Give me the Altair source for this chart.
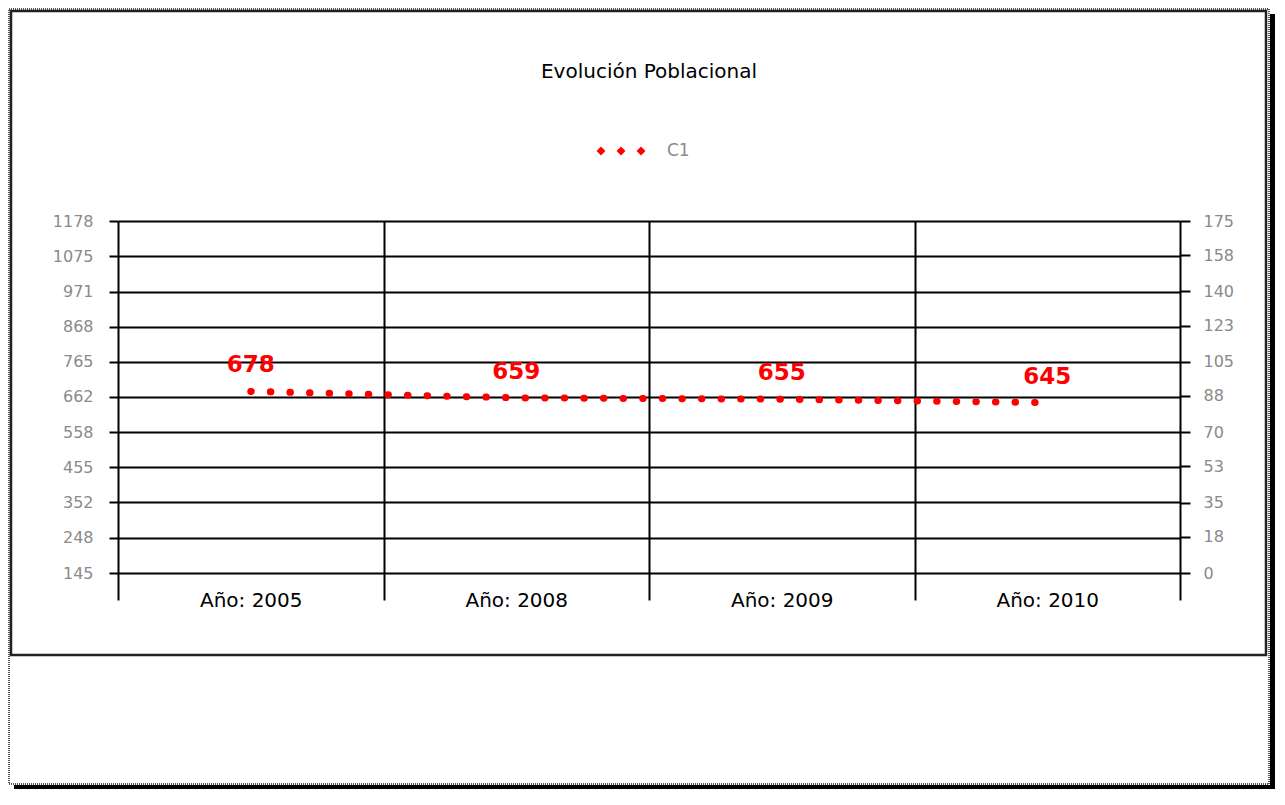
import json
import altair as alt
import pandas as pd

# ---- data ----
categories = ["Año: 2005", "Año: 2008", "Año: 2009", "Año: 2010"]
values = [678, 659, 655, 645]
series_name = "C1"
left_ticks = [145, 248, 352, 455, 558, 662, 765, 868, 971, 1075, 1178]
right_ticks = [0, 18, 35, 53, 70, 88, 105, 123, 140, 158, 175]

n = len(categories)
df = pd.DataFrame({
    "cat": categories,
    "pos": [i + 0.5 for i in range(n)],
    "val": values,
    "serie": [series_name] * n,
})
right_df = pd.DataFrame({"r": right_ticks})
one = pd.DataFrame({"k": [0]})

W, H = 1062, 352
FONT = "DejaVu Sans"
GRAY = "#8a8a8a"
RED = "#ff0000"

label_expr = (
    f"datum.value < {n} ? "
    f"{json.dumps(categories, ensure_ascii=False)}[datum.value] : ''"
)

x_enc = alt.X(
    "pos:Q",
    scale=alt.Scale(domain=[0, n], nice=False, zero=False),
    axis=alt.Axis(
        values=list(range(n + 1)), title=None, domain=False,
        grid=True, gridColor="#000", gridWidth=2, gridOpacity=1,
        ticks=True, tickSize=27, tickColor="#000", tickWidth=2,
        labelExpr=label_expr, labelOffset=W / n / 2, labelPadding=0,
        labelBaseline="middle", labelFontSize=20, labelFont=FONT,
        labelColor="#000", labelFlush=False, labelOverlap=False, labelBound=False,
    ),
)
y_enc = alt.Y(
    "val:Q",
    scale=alt.Scale(domain=[left_ticks[0], left_ticks[-1]], nice=False, zero=False),
    axis=alt.Axis(
        values=left_ticks, format="d", title=None, domain=False,
        grid=True, gridColor="#000", gridWidth=2, gridOpacity=1,
        tickSize=9, tickColor="#000", tickWidth=2,
        labelPadding=16, labelFontSize=16, labelFont=FONT, labelColor=GRAY,
        labelOverlap=False, labelFlush=False,
    ),
)

legend_path = (
    "M-0.885,0L-0.77,-0.12L-0.655,0L-0.77,0.12Z "
    "M-0.115,0L0,-0.12L0.115,0L0,0.12Z "
    "M0.655,0L0.77,-0.12L0.885,0L0.77,0.12Z"
)

line = alt.Chart(df).mark_line(
    strokeDash=[0.5, 19.1], strokeCap="round", strokeWidth=7
).encode(
    x=x_enc,
    y=y_enc,
    color=alt.Color(
        "serie:N",
        scale=alt.Scale(range=[RED]),
        legend=alt.Legend(
            orient="none", legendX=476, legendY=-97, title=None,
            symbolType=legend_path, symbolSize=2704,
            symbolFillColor=RED, symbolStrokeColor=RED, symbolStrokeWidth=2,
            symbolDash=[1, 0],
            labelFontSize=17, labelFont=FONT, labelColor=GRAY, labelOffset=19,
            padding=0,
        ),
    ),
)

labels = alt.Chart(df).mark_text(
    dy=-26, fontSize=23, fontWeight="bold", font=FONT, color=RED
).encode(x=x_enc, y=y_enc, text="val:Q")

right_axis = alt.Chart(right_df).mark_rule(opacity=0).encode(
    y=alt.Y(
        "r:Q",
        scale=alt.Scale(domain=[right_ticks[0], right_ticks[-1]], nice=False, zero=False),
        axis=alt.Axis(
            orient="right", values=right_ticks, format="d", title=None,
            domain=False, grid=False,
            tickSize=10, tickColor="#000", tickWidth=2,
            labelPadding=13, labelFontSize=16, labelFont=FONT, labelColor=GRAY,
            labelOverlap=False, labelFlush=False,
        ),
    )
)

# decorative frames around the chart (page-like boxes)
outer = alt.Chart(one).mark_rect(
    fillOpacity=0, stroke="#555", strokeWidth=2, strokeDash=[1, 1]
).encode(x=alt.value(-109), x2=alt.value(1151), y=alt.value(-212), y2=alt.value(563))
shadow_r = alt.Chart(one).mark_rect(color="#000").encode(
    x=alt.value(1152), x2=alt.value(1157), y=alt.value(-207), y2=alt.value(568))
shadow_b = alt.Chart(one).mark_rect(color="#000").encode(
    x=alt.value(-104), x2=alt.value(1157), y=alt.value(564), y2=alt.value(568))
inner = alt.Chart(one).mark_rect(
    fillOpacity=0, stroke="#222", strokeWidth=2.5
).encode(x=alt.value(-107), x2=alt.value(1148), y=alt.value(-210), y2=alt.value(434))

chart = alt.layer(
    outer, shadow_r, shadow_b, inner,
    alt.layer(line, labels),
    right_axis,
).resolve_scale(y="independent").properties(
    width=W, height=H,
    title=alt.TitleParams(
        "Evolución Poblacional", fontSize=20, font=FONT, fontWeight="normal",
        color="#000", anchor="middle", offset=-74,
    ),
    autosize=alt.AutoSizeParams(type="none"),
    padding={"left": 110, "top": 213, "right": 96, "bottom": 217},
).configure_view(strokeWidth=0).configure(background="#ffffff")

chart.save("out.html", embed_options={"renderer": "svg", "actions": False})
